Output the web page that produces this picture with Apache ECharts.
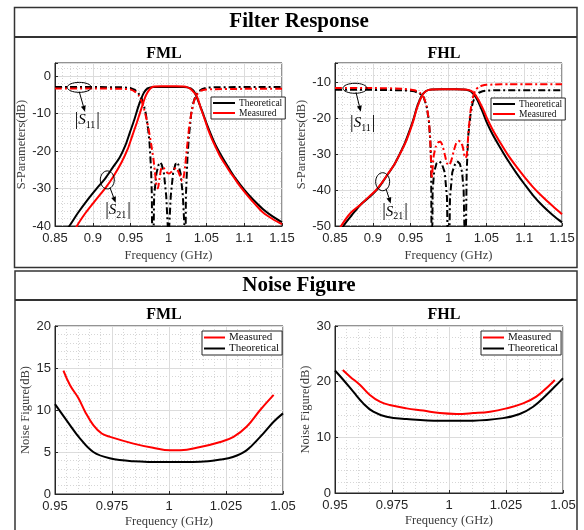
<!DOCTYPE html>
<html><head><meta charset="utf-8">
<script src="https://cdn.jsdelivr.net/npm/echarts@6/dist/echarts.min.js"></script>
<style>html,body{margin:0;padding:0;background:#fff}#c{width:584px;height:530px}</style>
</head><body><div id="c"></div><script>
// ---------- DATA ----------
// Filter response, FML
const fmlS21TFreq = [0.85,0.869,0.88,0.893,0.905,0.916,0.926,0.936,0.943,0.949,0.955,0.960,0.964,0.967,0.970,0.973,0.976,0.98,0.99,1.0,1.01,1.02,1.025,1.029,1.033,1.036,1.039,1.043,1.046,1.051,1.057,1.062,1.068,1.075,1.082,1.090,1.10,1.112,1.125,1.138,1.15];
const fmlS21T     = [-45,-40,-36.6,-33,-30,-27.4,-24.5,-21.5,-18.5,-15,-11.5,-8.2,-6,-4.6,-3.7,-3.2,-3.0,-2.9,-2.9,-2.9,-2.9,-2.9,-3.0,-3.3,-3.9,-5,-6.5,-8.6,-10.2,-13,-16,-18.3,-20.6,-23,-25.3,-27.7,-30.3,-33,-35.5,-37.5,-39];
const fmlS21MFreq = [0.87,0.879,0.89,0.90,0.91,0.918,0.928,0.938,0.946,0.952,0.958,0.962,0.966,0.970,0.974,0.978,0.982,0.99,1.0,1.01,1.02,1.025,1.029,1.033,1.037,1.040,1.043,1.047,1.052,1.057,1.062,1.068,1.075,1.082,1.086,1.095,1.105,1.115,1.125,1.138,1.15];
const fmlS21M     = [-44,-40,-36.6,-34,-31.5,-29.5,-26.5,-23,-19.5,-16,-12.5,-10,-7.5,-5.2,-3.8,-3.0,-2.8,-2.7,-2.7,-2.7,-2.8,-3.0,-3.4,-4.2,-5.2,-6.8,-8.7,-11,-14,-16.6,-18.8,-21.3,-23.6,-25.8,-26.9,-29.5,-32,-34.3,-36.4,-38.2,-39.5];
const fmlS11TFreq = [0.85,0.9,0.94,0.95,0.955,0.96,0.964,0.967,0.970,0.973,0.975,0.977,0.978,0.979,0.981,0.984,0.987,0.989,0.991,0.994,0.997,0.999,1.0,1.001,1.003,1.006,1.009,1.011,1.013,1.016,1.019,1.021,1.022,1.023,1.025,1.027,1.030,1.033,1.036,1.040,1.045,1.05,1.06,1.1,1.15];
const fmlS11T     = [-2.9,-2.9,-3.0,-3.2,-3.6,-4.5,-5.8,-7.5,-10,-14,-18,-25,-32,-60,-32,-26,-23.6,-23,-23.6,-26,-32,-40,-60,-40,-32,-26,-23.6,-23,-23.6,-26,-32,-40,-60,-32,-22,-16,-10,-7,-5.2,-4,-3.4,-3.1,-3.0,-2.9,-2.9];
const fmlS11MFreq = [0.85,0.9,0.94,0.95,0.956,0.961,0.965,0.968,0.971,0.974,0.977,0.980,0.982,0.984,0.986,0.988,0.990,0.992,0.995,0.998,1.001,1.004,1.007,1.010,1.012,1.015,1.018,1.020,1.022,1.024,1.026,1.028,1.031,1.034,1.038,1.043,1.05,1.06,1.1,1.15];
const fmlS11M     = [-3.3,-3.3,-3.4,-3.6,-4.2,-5.3,-7,-9,-11.5,-14.5,-18,-22,-25.5,-29,-30,-27.5,-25,-24.2,-24.8,-25.7,-26,-25.5,-24.8,-24.5,-25,-26.5,-28,-27,-24,-20,-16,-12.6,-9,-6.5,-4.8,-3.9,-3.6,-3.5,-3.4,-3.4];

// Filter response, FHL
const fhlS21TFreq = [0.85,0.861,0.872,0.884,0.895,0.905,0.913,0.92,0.928,0.936,0.943,0.949,0.954,0.958,0.962,0.966,0.970,0.974,0.978,0.99,1.0,1.01,1.02,1.026,1.030,1.034,1.038,1.042,1.046,1.051,1.058,1.068,1.078,1.09,1.10,1.112,1.125,1.138,1.15];
const fhlS21T     = [-54,-50,-47,-44,-42,-40,-37.7,-35.5,-33,-29.7,-26.5,-23.1,-20,-17,-14.8,-13.2,-12.4,-12.0,-11.9,-11.8,-11.8,-11.8,-11.9,-12.1,-12.5,-13.4,-14.8,-16.6,-18.6,-21.3,-24.3,-28,-31.5,-35.3,-38.2,-41.5,-44.5,-47,-49];
const fhlS21MFreq = [0.85,0.858,0.870,0.884,0.895,0.905,0.913,0.92,0.928,0.936,0.943,0.949,0.954,0.958,0.962,0.966,0.970,0.974,0.978,0.99,1.0,1.01,1.02,1.026,1.030,1.034,1.038,1.042,1.046,1.051,1.058,1.068,1.078,1.09,1.10,1.112,1.125,1.138,1.15];
const fhlS21M     = [-53,-50,-46.5,-44,-41.8,-39.8,-37.6,-35.4,-33,-29.8,-26.8,-23.5,-20.3,-17.3,-15,-13.3,-12.4,-12.0,-11.9,-11.8,-11.8,-11.8,-11.9,-12.0,-12.3,-13.0,-14.2,-15.8,-17.5,-20,-23,-26.6,-30,-33.5,-36.2,-39.2,-42,-44.5,-46.7];
const fhlS11TFreq = [0.85,0.9,0.94,0.955,0.962,0.967,0.971,0.974,0.976,0.977,0.978,0.979,0.981,0.984,0.988,0.991,0.995,0.998,1.0,1.002,1.005,1.009,1.012,1.015,1.018,1.020,1.021,1.022,1.024,1.026,1.029,1.032,1.036,1.040,1.045,1.05,1.06,1.1,1.15];
const fhlS11T     = [-12,-12,-12.1,-12.4,-13,-14,-16.5,-20.5,-26,-32,-70,-40,-35,-32.6,-32,-32.5,-35,-42,-70,-42,-35,-32.5,-32,-32.6,-35,-40,-50,-70,-35,-25,-19,-15.5,-13.6,-12.8,-12.4,-12.2,-12.1,-12.1,-12.1];
const fhlS11MFreq = [0.85,0.9,0.94,0.955,0.962,0.967,0.971,0.974,0.976,0.978,0.980,0.983,0.986,0.989,0.992,0.995,0.998,1.001,1.004,1.007,1.010,1.013,1.016,1.019,1.022,1.024,1.026,1.028,1.030,1.033,1.036,1.040,1.045,1.05,1.06,1.08,1.1,1.15];
const fhlS11M     = [-11.5,-11.5,-11.7,-12.1,-12.8,-14,-16.5,-20.5,-27,-36.8,-31,-28,-26.7,-26.5,-27.5,-30,-32.5,-33,-31.5,-29,-27,-26.2,-26.5,-28,-31,-30.5,-25,-20,-16.5,-13.5,-12,-11.2,-10.8,-10.6,-10.5,-10.4,-10.4,-10.4];

// Noise figure, FML
const nfFmlMFreq = [0.9537,0.9566,0.9603,0.9632,0.9668,0.9705,0.9742,0.9844,0.993,1.0005,1.005,1.0137,1.0225,1.0283,1.034,1.040,1.0459];
const nfFmlM     = [14.7,12.95,11.4,9.8,8.2,7.2,6.8,6.0,5.5,5.2,5.2,5.6,6.2,6.8,8.0,10,11.8];
const nfFmlTFreq = [0.95,0.955,0.961,0.9668,0.974,0.9844,0.999,1.0137,1.0225,1.028,1.034,1.040,1.0459,1.05];
const nfFmlT     = [10.7,8.8,6.6,5.0,4.25,3.9,3.8,3.85,4.1,4.4,5.2,6.8,8.6,9.6];
// Noise figure, FHL
const nfFhlMFreq = [0.9534,0.9566,0.961,0.9653,0.9697,0.974,0.9814,0.9887,0.996,1.0033,1.0106,1.018,1.0252,1.0325,1.0383,1.0442,1.0464];
const nfFhlM     = [22.1,20.9,19.4,17.6,16.4,15.8,15.2,14.8,14.35,14.2,14.35,14.6,15.2,16.1,17.3,19.4,20.3];
const nfFhlTFreq = [0.95,0.9537,0.958,0.9624,0.9668,0.9726,0.9814,0.996,1.0106,1.0237,1.031,1.0369,1.0427,1.0471,1.05];
const nfFhlT     = [22.0,20.3,18.2,16.1,14.6,13.7,13.3,13.0,13.0,13.45,14.2,15.5,17.6,19.4,20.6];

// Axis ranges / ticks
const filterXTicks = [0.85, 1.15, 0.05];
const fmlYRange = [-40, 3.5, 10];
const fhlYRange = [-50, -4.5, 10];
const nfXTicks = [0.95, 1.05, 0.025];
const nfFmlYRange = [0, 20, 5];
const nfFhlYRange = [0, 30, 10];

// Annotation anchors (data coordinates)
const annotations = [
  {grid:0, label:'11', ell:[0.8821,-3.0,12,5], arrow:[0.8821,-4.2,0.8896,-9.5], text:[0.8927,-11.7]},
  {grid:0, label:'21', ell:[0.9191,-27.7,7,9], arrow:[0.9227,-29.8,0.9302,-33.8], text:[0.9333,-35.7]},
  {grid:1, label:'11', ell:[0.8764,-11.56,12,5], arrow:[0.8778,-12.7,0.884,-18.1], text:[0.8866,-21.25]},
  {grid:1, label:'21', ell:[0.913,-37.64,7,9], arrow:[0.9174,-39.6,0.9236,-43.7], text:[0.9293,-46.0]}
];

// ---------- CHART ----------
const zip = (a, b) => a.map((v, i) => [v, b[i]]);
const SERIF = '"Liberation Serif","Times New Roman",serif';
const SANS = '"Liberation Sans",Arial,sans-serif';
const AX = '#262626';

const grids = [
  {left:55, top:63, width:227, height:163},
  {left:335, top:63, width:227, height:163},
  {left:55, top:326, width:228, height:168},
  {left:335, top:326, width:228, height:167}
].map(g => Object.assign({show:true, borderColor:AX, borderWidth:1, backgroundColor:'#fff', containLabel:false, outerBoundsMode:'none'}, g));

function fmtNum(v){ return String(+(+v).toFixed(4)); }

function xAx(gi, t, gap){
  return {type:'value', gridIndex:gi, min:t[0], max:t[1], interval:t[2],
    name:'Frequency (GHz)', nameLocation:'middle', nameGap:gap,
    nameTextStyle:{fontFamily:SERIF, fontSize:12.5, color:'#3a3a3a'},
    axisLine:{show:true, onZero:false, lineStyle:{color:AX}},
    axisTick:{show:true, inside:true, length:3, lineStyle:{color:AX}},
    axisLabel:{fontFamily:SANS, fontSize:13, color:AX, margin:6, formatter:fmtNum},
    splitLine:{show:true, lineStyle:{color:'#dcdcdc', width:1}},
    minorTick:{show:false, splitNumber:5},
    minorSplitLine:{show:true, lineStyle:{color:'#d6d6d6', width:1, type:[1,2]}}};
}
function yAx(gi, r, name){
  return {type:'value', gridIndex:gi, min:r[0], max:r[1], interval:r[2],
    name:name, nameLocation:'middle', nameGap:21, nameRotate:90,
    nameTextStyle:{fontFamily:SERIF, fontSize:12.5, color:'#3a3a3a'},
    axisLine:{show:true, onZero:false, lineStyle:{color:AX}},
    axisTick:{show:true, inside:true, length:3, lineStyle:{color:AX}},
    axisLabel:{fontFamily:SANS, fontSize:13, color:AX, margin:4,
      formatter:v => (Math.abs(v / r[2] - Math.round(v / r[2])) < 1e-6 ? fmtNum(v) : '')},
    splitLine:{show:true, lineStyle:{color:'#dcdcdc', width:1}},
    minorTick:{show:false, splitNumber:5},
    minorSplitLine:{show:true, lineStyle:{color:'#d6d6d6', width:1, type:[1,2]}}};
}

const DASHDOT = [7,3,2,3];
function line(name, gi, data, color, dash, smooth){
  return {type:'line', name:name, xAxisIndex:gi, yAxisIndex:gi, data:data,
    showSymbol:false, symbol:'none', clip:true, animation:false, color:color,
    smooth: smooth || false,
    itemStyle:{color:color},
    lineStyle:{color:color, width:2, type: dash ? DASHDOT : 'solid'}};
}

function legend(left, top, order, fs, iw){
  return {left:left, top:top, orient:'vertical', data:order.map(n => ({name:n, icon:'rect'})),
    itemWidth:iw, itemHeight:2, itemGap:0, padding:[1,3,1,2],
    borderColor:AX, borderWidth:1, backgroundColor:'#fff', selectedMode:false,
    textStyle:{fontFamily:SERIF, fontSize:fs, color:'#111', padding:[0,0,0,-1]}};
}

const option = {
  animation:false,
  backgroundColor:'#fff',
  grid:grids,
  xAxis:[xAx(0,filterXTicks,23), xAx(1,filterXTicks,23), xAx(2,nfXTicks,21), xAx(3,nfXTicks,21)],
  yAxis:[yAx(0,fmlYRange,'S-Parameters(dB)'), yAx(1,fhlYRange,'S-Parameters(dB)'),
         yAx(2,nfFmlYRange,'Noise Figure(dB)'), yAx(3,nfFhlYRange,'Noise Figure(dB)')],
  legend:[
    legend(211, 97, ['Theoretical','Measured'], 9.5, 22),
    legend(491, 98, ['Theoretical','Measured'], 9.5, 22),
    legend(202, 331, ['Measured','Theoretical'], 11, 21),
    legend(481, 331, ['Measured','Theoretical'], 11, 21)
  ],
  series:[
    line('Theoretical',0,zip(fmlS21TFreq,fmlS21T),'#000',false,0.3),
    line('Theoretical',0,zip(fmlS11TFreq,fmlS11T),'#000',true),
    line('Measured',0,zip(fmlS21MFreq,fmlS21M),'#f00',false,0.3),
    line('Measured',0,zip(fmlS11MFreq,fmlS11M),'#f00',true,0.2),
    line('Theoretical',1,zip(fhlS21TFreq,fhlS21T),'#000',false,0.3),
    line('Theoretical',1,zip(fhlS11TFreq,fhlS11T),'#000',true),
    line('Measured',1,zip(fhlS21MFreq,fhlS21M),'#f00',false,0.3),
    line('Measured',1,zip(fhlS11MFreq,fhlS11M),'#f00',true,0.2),
    line('Measured',2,zip(nfFmlMFreq,nfFmlM),'#f00',false,0.4),
    line('Theoretical',2,zip(nfFmlTFreq,nfFmlT),'#000',false,0.4),
    line('Measured',3,zip(nfFhlMFreq,nfFhlM),'#f00',false,0.4),
    line('Theoretical',3,zip(nfFhlTFreq,nfFhlT),'#000',false,0.4)
  ]
};

const chart = echarts.init(document.getElementById('c'), null, {renderer:'canvas'});
chart.setOption(option);

// ---------- DECORATION (boxes, titles, annotations) ----------
const g = [];
const BOX = '#333';
g.push({type:'rect', shape:{x:14.5, y:7.5, width:562.5, height:260}, style:{fill:'none', stroke:BOX, lineWidth:1.5}, z:-10});
g.push({type:'line', shape:{x1:14.5, y1:37, x2:577, y2:37}, style:{stroke:BOX, lineWidth:2}});
g.push({type:'rect', shape:{x:15, y:271, width:562, height:280}, style:{fill:'none', stroke:BOX, lineWidth:1.5}, z:-10});
g.push({type:'line', shape:{x1:15, y1:300, x2:577, y2:300}, style:{stroke:BOX, lineWidth:2}});
function txt(s, x, y, size){
  return {type:'text', x:x, y:y, style:{text:s, font:'bold '+size+'px '+SERIF, fill:'#000', align:'center', verticalAlign:'middle'}};
}
g.push(txt('Filter Response', 299, 22, 21));
g.push(txt('Noise Figure', 299, 286, 21));
g.push(txt('FML', 164, 54, 16));
g.push(txt('FHL', 444, 54, 16));
g.push(txt('FML', 164, 315, 16));
g.push(txt('FHL', 444, 315, 16));

annotations.forEach(a => {
  const px = (f, d) => chart.convertToPixel({gridIndex:a.grid}, [f, d]);
  const c = px(a.ell[0], a.ell[1]);
  g.push({type:'ellipse', shape:{cx:c[0], cy:c[1], rx:a.ell[2], ry:a.ell[3]}, style:{fill:'none', stroke:'#000', lineWidth:1}, z:50});
  const p1 = px(a.arrow[0], a.arrow[1]), p2 = px(a.arrow[2], a.arrow[3]);
  const dx = p2[0]-p1[0], dy = p2[1]-p1[1], L = Math.hypot(dx,dy), ux = dx/L, uy = dy/L;
  const hl = 6, hw = 2.5;
  const bx = p2[0]-ux*hl, by = p2[1]-uy*hl;
  g.push({type:'line', shape:{x1:p1[0], y1:p1[1], x2:bx, y2:by}, style:{stroke:'#000', lineWidth:1}, z:50});
  g.push({type:'polygon', shape:{points:[[p2[0],p2[1]],[bx-uy*hw,by+ux*hw],[bx+uy*hw,by-ux*hw]]}, style:{fill:'#000'}, z:50});
  const t = px(a.text[0], a.text[1]);
  g.push({type:'text', x:t[0], y:t[1], z:50, style:{
    text:'{b||}{s|S}{n|'+a.label+'}{b||}', align:'center', verticalAlign:'middle',
    rich:{
      b:{fontFamily:SERIF, fontSize:18, lineHeight:20, fill:'#000', color:'#000'},
      s:{fontFamily:SERIF, fontStyle:'italic', fontSize:15, lineHeight:20, fill:'#000', color:'#000'},
      n:{fontFamily:SERIF, fontSize:10, lineHeight:20, verticalAlign:'bottom', fill:'#000', color:'#000', padding:[0,1,0,0]}
    }}});
});
chart.setOption({graphic:{elements:g}});
</script></body></html>
